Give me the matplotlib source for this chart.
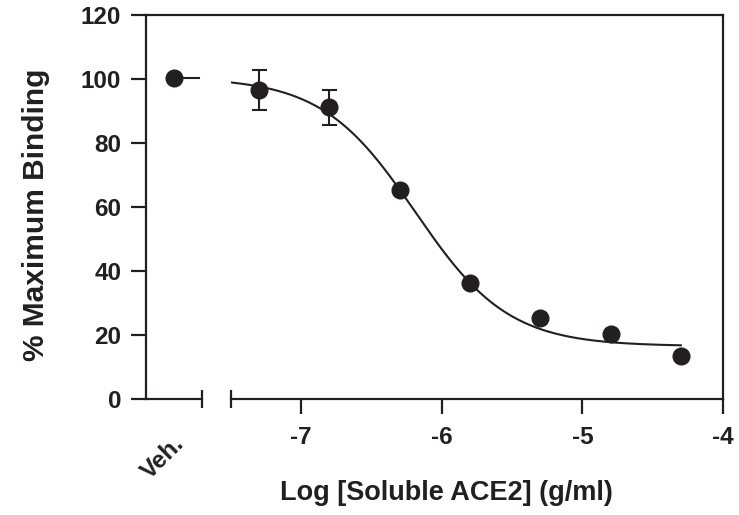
import numpy as np
import matplotlib
matplotlib.use("Agg")
import matplotlib.pyplot as plt
from matplotlib.lines import Line2D

plt.rcParams['font.family'] = ['Liberation Sans', 'DejaVu Sans']
plt.rcParams['font.weight'] = 'bold'
plt.rcParams['axes.unicode_minus'] = False

# ---- data ----
veh_label = "Veh."
veh_value = 100.3
log_conc = [-7.3, -6.8, -6.3, -5.8, -5.3, -4.8, -4.3]
binding = [96.6, 91.2, 65.3, 36.3, 25.3, 20.3, 13.4]
sem = [6.3, 5.5, 0.0, 0.0, 0.0, 0.0, 0.0]
x_ticks = [-7, -6, -5, -4]
x_ticklabels = ["-7", "-6", "-5", "-4"]
y_ticks = [0, 20, 40, 60, 80, 100, 120]
y_ticklabels = ["0", "20", "40", "60", "80", "100", "120"]
# sigmoidal fit parameters
fit_top, fit_bottom, fit_logec50, fit_hill = 100.5, 16.5, -6.19, 1.31

INK = "#231f20"
LW = 1.6
FS_TICK = 17.5

W, H = 739, 515
fig = plt.figure(figsize=(W / 100, H / 100), dpi=100)

y0, y1 = 399, 15
axL = fig.add_axes([146 / W, (H - y0) / H, (202 - 146) / W, (y0 - y1) / H])
axM = fig.add_axes([231 / W, (H - y0) / H, (723 - 231) / W, (y0 - y1) / H])


def sig(x):
    return fit_bottom + (fit_top - fit_bottom) / (1 + 10 ** ((x - fit_logec50) * fit_hill))


for ax in (axL, axM):
    ax.set_ylim(0, 120)
    ax.set_facecolor('none')
    for s in ax.spines.values():
        s.set_linewidth(LW)
        s.set_color(INK)
    ax.spines['top'].set_visible(False)

# left (vehicle) axis
axL.set_xlim(-1, 1)
axL.spines['right'].set_visible(False)
axL.set_yticks(y_ticks)
axL.set_yticklabels(y_ticklabels, fontsize=FS_TICK, fontweight='bold', color=INK)
axL.tick_params(axis='y', length=10.8, width=LW, color=INK, pad=7)
axL.set_xticks([])
axL.plot([0, 0.9], [veh_value, fit_top - 0.2], color=INK, lw=1.5, clip_on=False)
axL.plot([0], [veh_value], 'o', color=INK, ms=12, zorder=5, clip_on=False)
axL.annotate(veh_label, xy=(0, 0), xycoords='data', xytext=(-1, -24),
             textcoords='offset points', rotation=45, ha='right', va='top',
             rotation_mode='anchor', fontsize=FS_TICK, fontweight='bold', color=INK,
             annotation_clip=False)
axL.plot([1], [0], marker='|', ms=13, mew=LW, color=INK,
         transform=axL.transAxes, clip_on=False)

# main axis
axM.set_xlim(-7.5, -4)
axM.spines['left'].set_visible(False)
axM.set_yticks([])
axM.set_xticks(x_ticks)
axM.set_xticklabels(x_ticklabels, fontsize=FS_TICK, fontweight='bold', color=INK)
axM.tick_params(axis='x', length=10.8, width=LW, color=INK, pad=9)
axM.plot([0], [0], marker='|', ms=13, mew=LW, color=INK,
         transform=axM.transAxes, clip_on=False)

xc = np.linspace(-7.5, -4.3, 300)
axM.plot(xc, sig(xc), color=INK, lw=1.5)
axM.plot(log_conc, binding, 'o', color=INK, ms=12, zorder=5)
lc = np.array(log_conc)
bv = np.array(binding)
se = np.array(sem)
m = se > 0
axM.errorbar(lc[m], bv[m], yerr=se[m], fmt='none', ecolor=INK, elinewidth=1.5,
             capsize=5.4, capthick=1.5, zorder=4)

# continuous top frame line
fig.add_artist(Line2D([146 / W, 723 / W], [(H - y1) / H, (H - y1) / H],
                      transform=fig.transFigure, color=INK, lw=LW,
                      solid_capstyle='projecting'))

fig.text(446 / W, (H - 493) / H, "Log [Soluble ACE2] (g/ml)", ha='center', va='center',
         fontsize=19.5, fontweight='bold', color=INK)
fig.text(36 / W, (H - 215) / H, "% Maximum Binding", ha='center', va='center',
         rotation=90, fontsize=21.5, fontweight='bold', color=INK)

fig.savefig("out.png", dpi=100)
